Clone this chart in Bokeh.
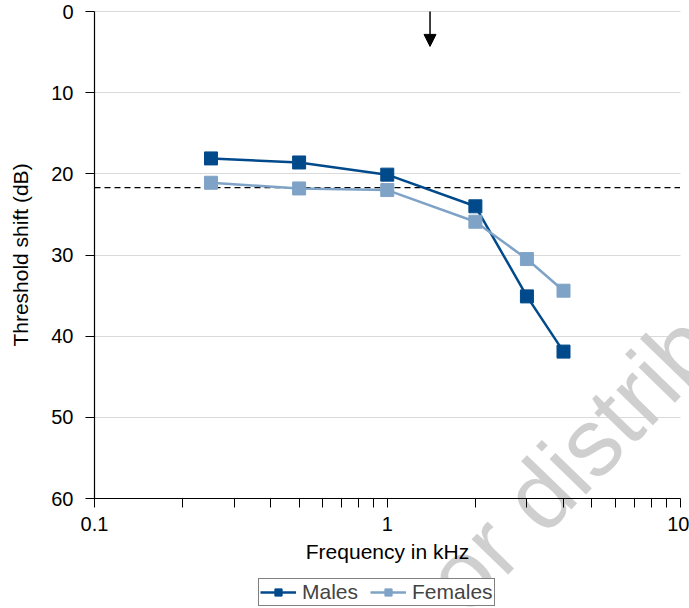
from bokeh.plotting import figure
from bokeh.models import (Range1d, FixedTicker, Arrow, NormalHead, Legend,
                          LegendItem, Label)
from bokeh.embed import file_html
from bokeh.resources import INLINE
import math

# ---- data ----
freq_khz = [0.25, 0.5, 1, 2, 3, 4]
males = [18.1, 18.6, 20.1, 24.0, 35.1, 41.9]
females = [21.1, 21.8, 22.0, 25.9, 30.5, 34.4]
reference_level = 21.7
arrow_freq = 1.4
arrow_tip = 4.3
y_ticks = [0, 10, 20, 30, 40, 50, 60]
x_major = [0.1, 1, 10]
x_minor = [0.2, 0.3, 0.4, 0.5, 0.6, 0.7, 0.8, 0.9, 2, 3, 4, 5, 6, 7, 8, 9]

MALE_C = "#004a8b"
FEMALE_C = "#7fa3c7"
FONT = "Liberation Sans"

# ---- layout: the frame fills the canvas; axes are pinned at fixed data
# locations so labels, legend and watermark are all drawn inside it ----
W, H = 689, 608
PLOT_L, PLOT_T = 94, 11            # pixel position of (0.1 kHz, 0 dB)
PLOT_W, PLOT_H = 585.5, 487        # pixel size of the 0.1..10 kHz x 0..60 dB area
X_MIN, X_MAX = x_major[0], x_major[-1]
Y_MIN, Y_MAX = y_ticks[0], y_ticks[-1]
dec_per_px = (math.log10(X_MAX) - math.log10(X_MIN)) / PLOT_W
db_per_px = (Y_MAX - Y_MIN) / PLOT_H
x_start = 10 ** (math.log10(X_MIN) - PLOT_L * dec_per_px)
x_end = 10 ** (math.log10(X_MIN) + (W - PLOT_L) * dec_per_px)
y_top = Y_MIN - PLOT_T * db_per_px
y_bottom = Y_MIN + (H - PLOT_T) * db_per_px

p = figure(width=W, height=H, x_axis_type="log",
           x_range=Range1d(x_start, x_end), y_range=Range1d(y_bottom, y_top),
           output_backend="svg", toolbar_location=None,
           min_border=0, min_border_left=0, min_border_right=0,
           min_border_top=0, min_border_bottom=0,
           background_fill_color="white", border_fill_color="white")
p.outline_line_color = None

# axes
xa = p.xaxis[0]
ya = p.yaxis[0]
xa.fixed_location = Y_MAX
ya.fixed_location = X_MIN
xa.bounds = (X_MIN, X_MAX)
ya.bounds = (Y_MIN, Y_MAX)
xa.ticker = FixedTicker(ticks=x_major, minor_ticks=x_minor)
xa.major_label_overrides = {0.1: "0.1", 1: "1", 10: "10"}
ya.ticker = FixedTicker(ticks=y_ticks)
for ax in (xa, ya):
    ax.axis_line_color = "black"
    ax.axis_line_width = 1.2
    ax.major_tick_line_color = "black"
    ax.minor_tick_line_color = "black"
    ax.major_tick_in = 0
    ax.major_tick_out = 9
    ax.minor_tick_in = 0
    ax.minor_tick_out = 9
    ax.major_label_text_font = FONT
    ax.major_label_text_font_size = "20px"
    ax.major_label_text_color = "black"
    ax.axis_label_text_font = FONT
    ax.axis_label_text_font_size = "21px"
    ax.axis_label_text_font_style = "normal"
    ax.axis_label_text_color = "black"
ya.minor_tick_out = 0
ya.major_label_standoff = 12
xa.major_label_standoff = 9
xa.axis_label = "Frequency in kHz"
ya.axis_label = "Threshold shift (dB)"
xa.axis_label_standoff = 6
ya.axis_label_standoff = 16

p.xgrid.grid_line_color = None
grid = p.ygrid[0]
try:
    grid.cross_bounds = (X_MIN, X_MAX)
    grid.ticker = FixedTicker(ticks=y_ticks)
    grid.grid_line_color = "#d9d9d9"
    grid.grid_line_width = 1.2
except Exception:
    grid.grid_line_color = None
    p.segment(x0=[X_MIN] * len(y_ticks), x1=[X_MAX] * len(y_ticks),
              y0=y_ticks, y1=y_ticks, line_color="#d9d9d9", line_width=1.2,
              level="underlay")

# watermark
p.add_layout(Label(x=1.54, y=71.8, text="or distribution", angle=0.80,
                   text_font=FONT, text_font_size="96px", text_color="#cfcfcf",
                   text_align="left", text_baseline="alphabetic", level="underlay"))

# reference dashed line across the plot area
p.line([X_MIN, X_MAX], [reference_level, reference_level], line_color="black",
       line_dash="6 4", line_width=1.3)

# arrow
p.add_layout(Arrow(x_start=arrow_freq, y_start=0, x_end=arrow_freq, y_end=arrow_tip,
                   line_color="black", line_width=1.5,
                   end=NormalHead(size=12, fill_color="black", line_color="black")))

lm = p.line(freq_khz, males, line_color=MALE_C, line_width=2.5)
sm = p.scatter(freq_khz, males, marker="square", size=13, fill_color=MALE_C,
               line_color=MALE_C)
lf = p.line(freq_khz, females, line_color=FEMALE_C, line_width=2.5)
sf = p.scatter(freq_khz, females, marker="square", size=13, fill_color=FEMALE_C,
               line_color=FEMALE_C)

legend = Legend(items=[LegendItem(label="Males", renderers=[lm, sm]),
                       LegendItem(label="Females", renderers=[lf, sf])],
                orientation="horizontal", location=(258, 2),
                label_text_font=FONT, label_text_font_size="21px",
                border_line_color="black", border_line_width=1.2,
                background_fill_color="white", background_fill_alpha=1.0,
                padding=1, spacing=12, margin=0, glyph_width=36, glyph_height=18,
                label_standoff=6, label_height=16)
p.add_layout(legend, "center")

open("out.html", "w").write(file_html(p, INLINE))
